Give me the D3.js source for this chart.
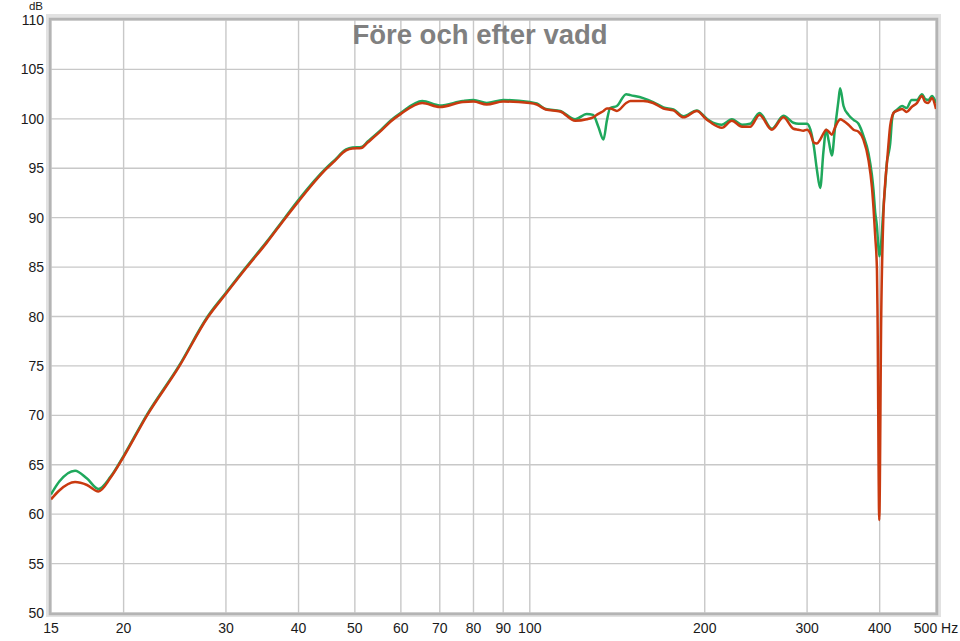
<!DOCTYPE html>
<html>
<head>
<meta charset="utf-8">
<script src="https://cdn.jsdelivr.net/npm/d3@7"></script>
<style>
  html, body { margin: 0; padding: 0; background: #fff; }
  svg { display: block; }
  text { font-family: "Liberation Sans", Arial, Helvetica, sans-serif; }
</style>
</head>
<body>
<svg id="chart" width="960" height="641"></svg>
<script>
// ---- data ----
const title = "Före och efter vadd";
const freqHz = [15,15.5,16.5,17.3,18.1,19,20,21.9,24.9,27.9,30,32.5,35.3,37.9,40,44.6,46.1,48.3,49.5,51.3,52.6,55.5,57.7,60,65.3,70,76.7,80,84.3,90,100,102.8,106.5,112.8,119.7,125.3,128.5,131.2,133.9,135.7,137.5,141.2,146.5,149,156.7,163,169.8,176.7,183.9,193.8,201.7,204,214,222.7,231.8,239.4,248.4,260.9,273.2,284.2,290,295.7,300,304,308,312,316,320,323.6,327,331,335,339.8,342,346.6,353.5,360.6,367.8,375,382.7,387.9,390.3,393,395.7,396.6,399.3,402.5,406,408.8,411.6,414,417,420,422.6,428,437,445,454,463.5,473,479,485,492,498.5,500];
const foreDb = [62.0,63.3,64.4,63.6,62.55,63.8,65.9,70.0,75.0,80.0,82.4,85.0,87.6,90.0,91.8,95.0,95.8,96.9,97.1,97.15,97.7,98.9,99.85,100.6,101.8,101.35,101.8,101.9,101.6,101.9,101.7,101.55,101.0,100.8,99.95,100.5,100.4,99.2,97.9,99.8,101.1,101.3,102.5,102.4,102.1,101.7,101.15,100.95,100.25,100.85,100.0,99.8,99.4,99.95,99.4,99.5,100.6,99.0,100.3,99.6,99.5,99.5,99.5,98.9,97.3,94.8,93.0,96.6,98.9,97.7,96.3,99.0,101.9,103.1,101.3,100.4,99.9,99.5,98.3,96.5,94.3,92.8,90.5,89.1,88.3,86.1,87.6,91.0,93.2,95.6,96.4,97.5,99.9,100.6,100.9,101.3,101.1,101.9,101.9,102.5,102.0,101.9,102.3,101.8,101.6];
const efterDb = [61.5,62.4,63.25,62.95,62.3,63.7,65.8,69.9,74.9,79.9,82.3,84.9,87.5,89.9,91.65,94.9,95.7,96.8,97.0,97.05,97.6,98.8,99.75,100.5,101.6,101.2,101.7,101.75,101.45,101.75,101.6,101.45,100.95,100.75,99.8,99.95,100.15,100.5,100.8,101.05,101.05,100.8,101.6,101.8,101.8,101.6,101.05,100.85,100.15,100.8,99.9,99.7,99.1,99.8,99.2,99.2,100.4,98.9,100.15,99.0,98.9,98.8,98.9,98.5,97.6,97.5,97.9,98.5,98.9,98.7,98.4,99.1,99.8,99.95,99.8,99.4,98.9,98.7,97.9,95.8,93.1,91.0,88.1,84.7,80.3,59.4,80.3,90.4,93.5,95.5,97.3,99.3,100.2,100.6,100.8,101.0,100.7,101.2,101.6,102.3,101.7,101.6,102.1,101.3,101.0];
const xTicks = [15,20,30,40,50,60,70,80,90,100,200,300,400,500];
const xTickLabels = ["15","20","30","40","50","60","70","80","90","100","200","300","400","500 Hz"];
const yTicks = [50,55,60,65,70,75,80,85,90,95,100,105,110];
const yUnit = "dB";

// ---- layout ----
const svg = d3.select("#chart");
const L = 51, R = 936, T = 20, B = 613;
const x = d3.scaleLog().domain([15, 500]).range([L, R]);
const y = d3.scaleLinear().domain([50, 110]).range([B, T]);

// frame shadow
svg.append("rect")
  .attr("x", L - 3).attr("y", T - 4).attr("width", R - L + 6).attr("height", B - T + 6)
  .attr("fill", "none").attr("stroke", "#e2e2e2").attr("stroke-width", 4);

// grid
const grid = svg.append("g");
grid.selectAll("line.v").data(xTicks).join("line")
  .attr("x1", d => x(d)).attr("x2", d => x(d)).attr("y1", T).attr("y2", B)
  .attr("stroke", "#c8c8c8").attr("stroke-width", 1.4);
grid.selectAll("line.h").data(yTicks).join("line")
  .attr("x1", L).attr("x2", R).attr("y1", d => y(d)).attr("y2", d => y(d))
  .attr("stroke", "#c8c8c8").attr("stroke-width", 1.4);

// frame
svg.append("rect")
  .attr("x", L - 1).attr("y", T - 1).attr("width", R - L + 2).attr("height", B - T + 2)
  .attr("fill", "none").attr("stroke", "#b4b4b4").attr("stroke-width", 2.5);

// title
svg.append("text")
  .attr("x", 480).attr("y", 44).attr("text-anchor", "middle")
  .attr("font-size", 27.5).attr("font-weight", "bold").attr("fill", "#808080")
  .text(title);

// axes labels
svg.append("g").selectAll("text").data(yTicks).join("text")
  .attr("x", 44).attr("y", d => y(d) + 5).attr("text-anchor", "end")
  .attr("font-size", 14).attr("fill", "#1a1a1a").text(d => d);
svg.append("text").attr("x", 43).attr("y", 9.5).attr("text-anchor", "end")
  .attr("font-size", 11.5).attr("fill", "#1a1a1a").text(yUnit);
svg.append("g").selectAll("text").data(xTicks).join("text")
  .attr("x", d => x(d)).attr("y", 633).attr("text-anchor", "middle")
  .attr("font-size", 14).attr("fill", "#1a1a1a").text((d, i) => xTickLabels[i]);

// lines
svg.append("clipPath").attr("id", "clip").append("rect")
  .attr("x", L).attr("y", T).attr("width", R - L).attr("height", B - T);
const line = d3.line().x(d => x(d[0])).y(d => y(d[1])).curve(d3.curveMonotoneX);
const g = svg.append("g").attr("clip-path", "url(#clip)");
g.append("path").datum(freqHz.map((f, i) => [f, foreDb[i]]))
  .attr("d", line).attr("fill", "none").attr("stroke", "#1fa85c").attr("stroke-width", 2.5)
  .attr("stroke-linejoin", "round");
g.append("path").datum(freqHz.map((f, i) => [f, efterDb[i]]))
  .attr("d", line).attr("fill", "none").attr("stroke", "#c93a10").attr("stroke-width", 2.5)
  .attr("stroke-linejoin", "round");
</script>
</body>
</html>
